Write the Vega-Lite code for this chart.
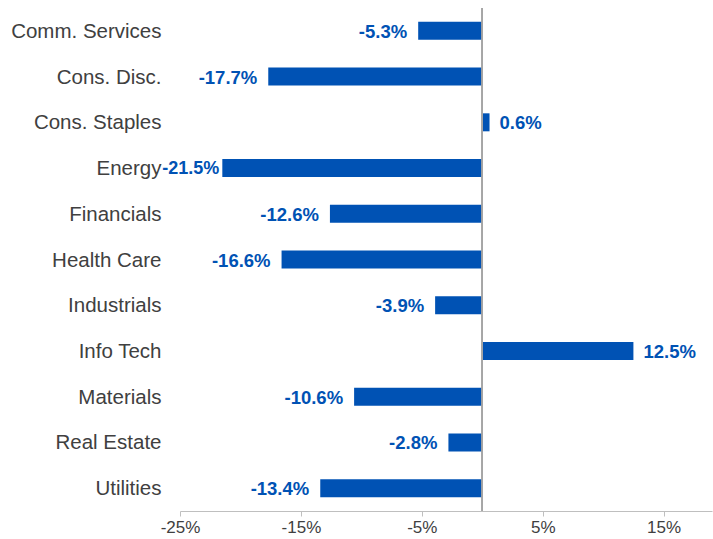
{
  "$schema": "https://vega.github.io/schema/vega-lite/v6.json",
  "width": 532,
  "height": 503,
  "autosize": {"type": "none"},
  "padding": {"left": 180, "top": 8, "right": 1, "bottom": 28},
  "background": "white",
  "config": {
    "view": {"stroke": null},
    "font": "Liberation Sans",
    "locale": {"number": {"decimal": ".", "thousands": ",", "grouping": [3], "currency": ["$", ""], "minus": "-"}}
  },
  "data": {
    "values": [
      {"sector": "Comm. Services", "value": -0.053},
      {"sector": "Cons. Disc.", "value": -0.177},
      {"sector": "Cons. Staples", "value": 0.006},
      {"sector": "Energy", "value": -0.215},
      {"sector": "Financials", "value": -0.126},
      {"sector": "Health Care", "value": -0.166},
      {"sector": "Industrials", "value": -0.039},
      {"sector": "Info Tech", "value": 0.125},
      {"sector": "Materials", "value": -0.106},
      {"sector": "Real Estate", "value": -0.028},
      {"sector": "Utilities", "value": -0.134}
    ]
  },
  "encoding": {
    "y": {
      "field": "sector", "type": "nominal", "sort": null,
      "scale": {"paddingInner": 0, "paddingOuter": 0},
      "axis": {"title": null, "domain": false, "ticks": false, "labelPadding": 19, "labelFontSize": 20.5, "labelColor": "#404040", "labelFont": "Liberation Sans", "labelOffset": 1}
    }
  },
  "layer": [
    {
      "mark": {"type": "bar", "size": 18, "color": "#0052B4"},
      "encoding": {
        "x": {
          "field": "value", "type": "quantitative",
          "scale": {"domain": [-0.25, 0.19], "nice": false, "zero": false},
          "axis": {"title": null, "grid": false, "format": ".0%", "values": [-0.25, -0.15, -0.05, 0.05, 0.15], "labelFlush": false, "labelBound": false, "domainColor": "#bfbfbf", "tickColor": "#bfbfbf", "tickSize": 5, "labelFontSize": 17, "labelColor": "#404040", "labelPadding": 3, "labelFont": "Liberation Sans"}
        }
      }
    },
    {
      "mark": {"type": "rule", "color": "#a6a6a6", "strokeWidth": 1},
      "encoding": {"x": {"datum": 0, "type": "quantitative"}, "y": null}
    },
    {
      "transform": [{"filter": "datum.value < 0 && datum.value > -0.2"}],
      "mark": {"type": "text", "align": "right", "baseline": "middle", "dx": -11, "dy": 1, "fontSize": 18.5, "fontWeight": "bold", "color": "#0052B4"},
      "encoding": {"x": {"field": "value", "type": "quantitative"}, "text": {"field": "value", "type": "quantitative", "format": ".1%"}}
    },
    {
      "transform": [{"filter": "datum.value <= -0.2"}],
      "mark": {"type": "text", "align": "right", "baseline": "middle", "dx": -3, "dy": 1, "fontSize": 18, "fontWeight": "bold", "color": "#0052B4"},
      "encoding": {"x": {"field": "value", "type": "quantitative"}, "text": {"field": "value", "type": "quantitative", "format": ".1%"}}
    },
    {
      "transform": [{"filter": "datum.value >= 0"}],
      "mark": {"type": "text", "align": "left", "baseline": "middle", "dx": 10, "dy": 1, "fontSize": 18.5, "fontWeight": "bold", "color": "#0052B4"},
      "encoding": {"x": {"field": "value", "type": "quantitative"}, "text": {"field": "value", "type": "quantitative", "format": ".1%"}}
    }
  ]
}
